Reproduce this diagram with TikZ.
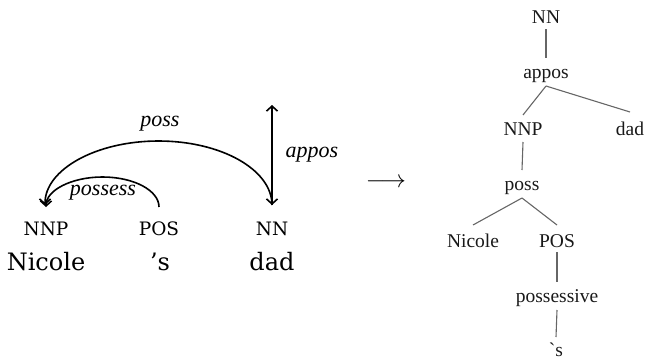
\documentclass[tikz,border=0pt]{standalone}
\usepackage{fontspec}
\setmainfont{Liberation Serif}
\newfontfamily\dvs{DejaVu Serif}
\newfontfamily\lsi{Liberation Serif}
\usetikzlibrary{arrows.meta,calc}
\begin{document}
\begin{tikzpicture}[x=1pt,y=-1pt,
  tag/.style={anchor=base,inner sep=0pt,font=\dvs\fontsize{18.5}{20}\selectfont},
  word/.style={anchor=base,inner sep=0pt,font=\dvs\fontsize{24}{28}\selectfont},
  rel/.style={inner sep=0pt,font=\lsi\itshape\fontsize{22}{24}\selectfont},
  dep/.style={line width=1.6pt,-{Straight Barb[length=5pt,width=11pt]}},
  tn/.style={anchor=base,inner sep=0pt,text=black!90,font=\fontsize{19.5}{22}\selectfont},
  tl/.style={draw=black!60,line width=1.1pt}]
\useasboundingbox (0,0) rectangle (645,359);

% ---- left: dependency graph ----
\node[tag] (tNNP) at (46,235) {NNP};
\node[tag] (tPOS) at (159,235) {POS};
\node[tag] (tNN)  at (272,235) {NN};
\node[word] (wNicole) at (46,270) {Nicole};
\node[word] (wS) at (160,270) {’s};
\node[word] (wDad) at (272,270) {dad};

\coordinate (nnTop) at ($(tNN.base)+(0,-30)$);
\coordinate (posTop) at ($(tPOS.base)+(0,-28)$);
\coordinate (rootTop) at ($(tNN.base)+(0,-130)$);

\draw[dep] (nnTop) arc[start angle=0,end angle=-180,x radius=113.5,y radius=64];
\draw[dep] (posTop) arc[start angle=0,end angle=-180,x radius=56.5,y radius=30];
\draw[line width=1.6pt,{Straight Barb[length=5pt,width=11pt]}-{Straight Barb[length=5pt,width=11pt]}] (rootTop) -- (nnTop);

\node[rel] (lPoss) at (160,124) {poss};
\node[rel] (lPossess) at (103,193) {possess};
\node[rel] (lAppos) at (312,155) {appos};

% ---- arrow ----
\node[inner sep=0pt] (arr) at (386,183) {\fontsize{23}{23}\selectfont$\longrightarrow$};

% ---- right: tree ----
\node[tn] (rNN) at (546,23) {NN};
\node[tn] (rAppos) at (546,78) {appos};
\node[tn] (rNNP) at (523,135) {NNP};
\node[tn] (rDad) at (630,135) {dad};
\node[tn] (rPoss) at (522,190) {poss};
\node[tn] (rNicole) at (473,247) {Nicole};
\node[tn] (rPOS) at (557,247) {POS};
\node[tn] (rPossessive) at (557,302) {possessive};
\node[tn] (rS) at (556,356) {ˋs};

\draw[tl] ($(rNN.base)+(0,6)$) -- ($(rAppos.base)+(0,-20)$);
\draw[tl] ($(rAppos.base)+(0,8)$) -- ($(rNNP.base)+(0,-20)$);
\draw[tl] ($(rAppos.base)+(0,8)$) -- ($(rDad.base)+(0,-23)$);
\draw[tl] ($(rNNP.base)+(0,7)$) -- ($(rPoss.base)+(0,-20)$);
\draw[tl] ($(rPoss.base)+(0,8)$) -- ($(rNicole.base)+(0,-22)$);
\draw[tl] ($(rPoss.base)+(0,8)$) -- ($(rPOS.base)+(0,-22)$);
\draw[tl] ($(rPOS.base)+(0,5)$) -- ($(rPossessive.base)+(0,-20)$);
\draw[tl] ($(rPossessive.base)+(0,8)$) -- ($(rS.base)+(0,-19)$);
\end{tikzpicture}
\end{document}
